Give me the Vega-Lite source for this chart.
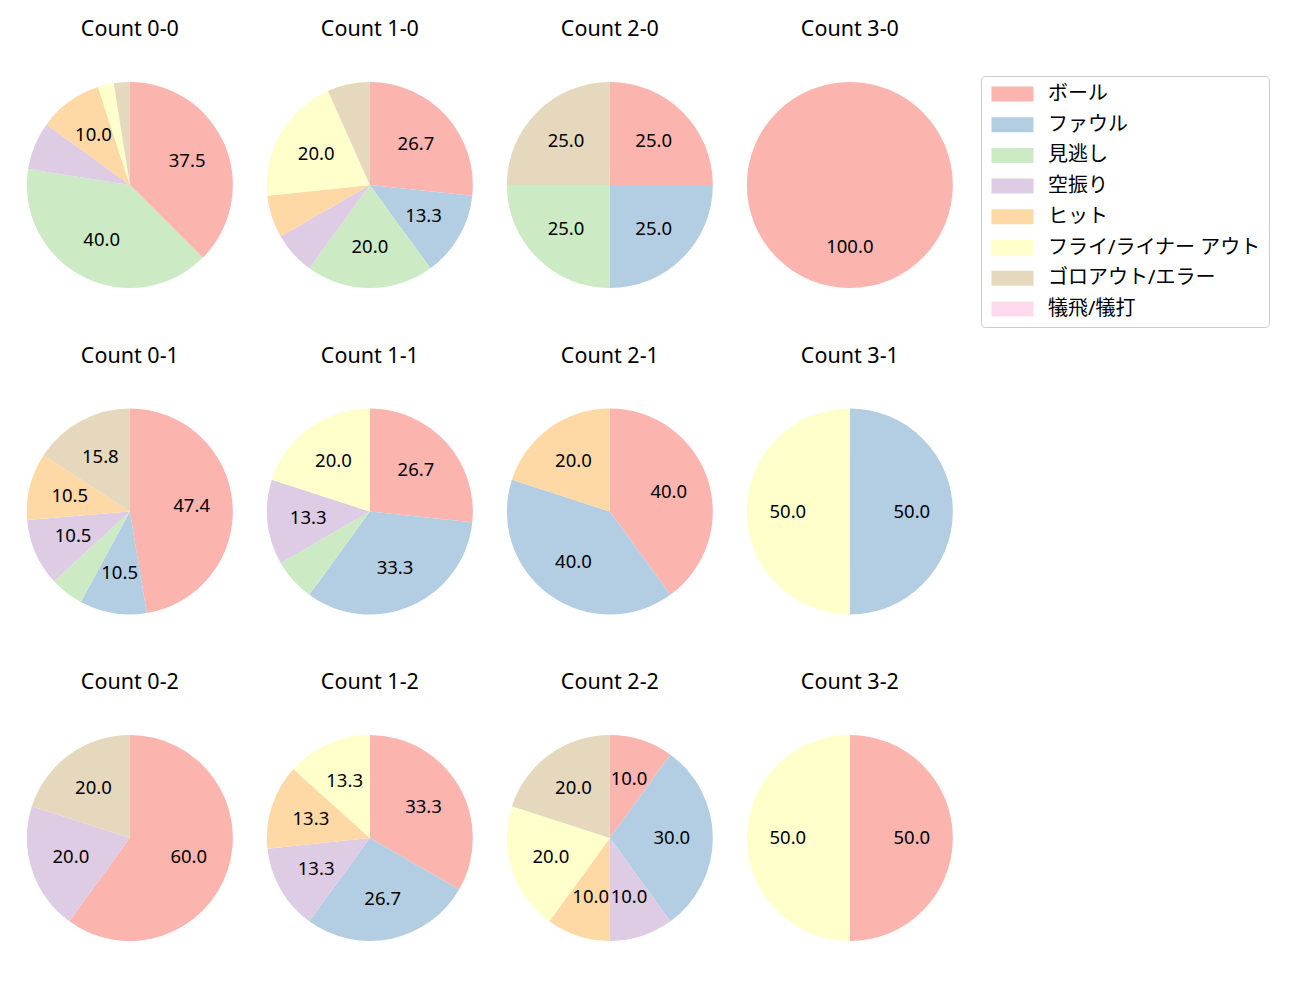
{
  "$schema": "https://vega.github.io/schema/vega-lite/v6.json",
  "padding": {"left": 10, "top": 19, "right": 0, "bottom": 0},
  "background": "white",
  "data": {"values": [
    {"c": "Count 0-0", "t": "ボール", "k": 0, "p": 37.5},
    {"c": "Count 0-0", "t": "見逃し", "k": 2, "p": 40.0},
    {"c": "Count 0-0", "t": "空振り", "k": 3, "p": 7.5},
    {"c": "Count 0-0", "t": "ヒット", "k": 4, "p": 10.0},
    {"c": "Count 0-0", "t": "フライ/ライナー アウト", "k": 5, "p": 2.5},
    {"c": "Count 0-0", "t": "ゴロアウト/エラー", "k": 6, "p": 2.5},
    {"c": "Count 1-0", "t": "ボール", "k": 0, "p": 26.67},
    {"c": "Count 1-0", "t": "ファウル", "k": 1, "p": 13.33},
    {"c": "Count 1-0", "t": "見逃し", "k": 2, "p": 20.0},
    {"c": "Count 1-0", "t": "空振り", "k": 3, "p": 6.67},
    {"c": "Count 1-0", "t": "ヒット", "k": 4, "p": 6.67},
    {"c": "Count 1-0", "t": "フライ/ライナー アウト", "k": 5, "p": 20.0},
    {"c": "Count 1-0", "t": "ゴロアウト/エラー", "k": 6, "p": 6.67},
    {"c": "Count 2-0", "t": "ボール", "k": 0, "p": 25.0},
    {"c": "Count 2-0", "t": "ファウル", "k": 1, "p": 25.0},
    {"c": "Count 2-0", "t": "見逃し", "k": 2, "p": 25.0},
    {"c": "Count 2-0", "t": "ゴロアウト/エラー", "k": 6, "p": 25.0},
    {"c": "Count 3-0", "t": "ボール", "k": 0, "p": 100.0},
    {"c": "Count 0-1", "t": "ボール", "k": 0, "p": 47.37},
    {"c": "Count 0-1", "t": "ファウル", "k": 1, "p": 10.53},
    {"c": "Count 0-1", "t": "見逃し", "k": 2, "p": 5.26},
    {"c": "Count 0-1", "t": "空振り", "k": 3, "p": 10.53},
    {"c": "Count 0-1", "t": "ヒット", "k": 4, "p": 10.53},
    {"c": "Count 0-1", "t": "ゴロアウト/エラー", "k": 6, "p": 15.79},
    {"c": "Count 1-1", "t": "ボール", "k": 0, "p": 26.67},
    {"c": "Count 1-1", "t": "ファウル", "k": 1, "p": 33.33},
    {"c": "Count 1-1", "t": "見逃し", "k": 2, "p": 6.67},
    {"c": "Count 1-1", "t": "空振り", "k": 3, "p": 13.33},
    {"c": "Count 1-1", "t": "フライ/ライナー アウト", "k": 5, "p": 20.0},
    {"c": "Count 2-1", "t": "ボール", "k": 0, "p": 40.0},
    {"c": "Count 2-1", "t": "ファウル", "k": 1, "p": 40.0},
    {"c": "Count 2-1", "t": "ヒット", "k": 4, "p": 20.0},
    {"c": "Count 3-1", "t": "ファウル", "k": 1, "p": 50.0},
    {"c": "Count 3-1", "t": "フライ/ライナー アウト", "k": 5, "p": 50.0},
    {"c": "Count 0-2", "t": "ボール", "k": 0, "p": 60.0},
    {"c": "Count 0-2", "t": "空振り", "k": 3, "p": 20.0},
    {"c": "Count 0-2", "t": "ゴロアウト/エラー", "k": 6, "p": 20.0},
    {"c": "Count 1-2", "t": "ボール", "k": 0, "p": 33.33},
    {"c": "Count 1-2", "t": "ファウル", "k": 1, "p": 26.67},
    {"c": "Count 1-2", "t": "空振り", "k": 3, "p": 13.33},
    {"c": "Count 1-2", "t": "ヒット", "k": 4, "p": 13.33},
    {"c": "Count 1-2", "t": "フライ/ライナー アウト", "k": 5, "p": 13.33},
    {"c": "Count 2-2", "t": "ボール", "k": 0, "p": 10.0},
    {"c": "Count 2-2", "t": "ファウル", "k": 1, "p": 30.0},
    {"c": "Count 2-2", "t": "空振り", "k": 3, "p": 10.0},
    {"c": "Count 2-2", "t": "ヒット", "k": 4, "p": 10.0},
    {"c": "Count 2-2", "t": "フライ/ライナー アウト", "k": 5, "p": 20.0},
    {"c": "Count 2-2", "t": "ゴロアウト/エラー", "k": 6, "p": 20.0},
    {"c": "Count 3-2", "t": "ボール", "k": 0, "p": 50.0},
    {"c": "Count 3-2", "t": "フライ/ライナー アウト", "k": 5, "p": 50.0}
  ]},
  "facet": {
    "field": "c",
    "type": "nominal",
    "sort": ["Count 0-0","Count 1-0","Count 2-0","Count 3-0","Count 0-1","Count 1-1","Count 2-1","Count 3-1","Count 0-2","Count 1-2","Count 2-2","Count 3-2"],
    "header": {"title": null, "labelFont": "Noto Sans, Noto Sans CJK JP", "labelFontSize": 21.5, "labelColor": "#000000", "labelPadding": 24.5}
  },
  "columns": 4,
  "spacing": {"column": 0, "row": 40.5},
  "resolve": {"scale": {"theta": "independent"}},
  "spec": {
    "width": 239.7,
    "height": 240,
    "layer": [
      {
        "mark": {"type": "arc", "radius": 103},
        "encoding": {
          "theta": {"field": "p", "type": "quantitative", "stack": true},
          "order": {"field": "k", "type": "quantitative"},
          "color": {
            "field": "t", "type": "nominal",
            "scale": {
              "domain": ["ボール","ファウル","見逃し","空振り","ヒット","フライ/ライナー アウト","ゴロアウト/エラー","犠飛/犠打"],
              "range": ["#fbb4ae","#b3cde3","#ccebc5","#decbe4","#fed9a6","#ffffcc","#e5d8bd","#fddaec"]
            },
            "legend": {
              "title": null,
              "orient": "none",
              "legendX": 971,
              "legendY": 11,
              "labelFont": "Noto Sans, Noto Sans CJK JP",
              "labelFontSize": 20,
              "labelColor": "#000000",
              "symbolType": "M-1,-1H4.6V1H-1Z",
              "symbolSize": 225,
              "symbolStrokeWidth": 0,
              "symbolOpacity": 1,
              "labelOffset": 39,
              "rowPadding": 10.7,
              "padding": 8,
              "strokeColor": "#cccccc",
              "cornerRadius": 4,
              "fillColor": "white",
              "labelLimit": 400
            }
          }
        }
      },
      {
        "mark": {"type": "text", "radius": 62, "font": "Noto Sans", "fontSize": 18.5, "color": "#000000"},
        "encoding": {
          "theta": {"field": "p", "type": "quantitative", "stack": true},
          "order": {"field": "k", "type": "quantitative"},
          "text": {"field": "p", "type": "quantitative", "format": ".1f"},
          "opacity": {"condition": {"test": "datum.p < 9.9", "value": 0}, "value": 1}
        }
      }
    ]
  },
  "config": {"view": {"stroke": null}}
}
